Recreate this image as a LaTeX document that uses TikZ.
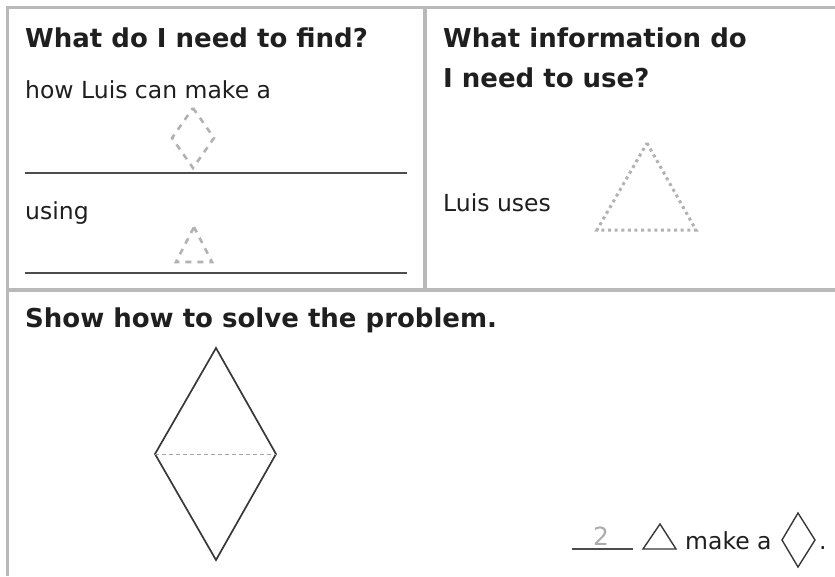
\documentclass[tikz,border=0pt]{standalone}
\usepackage{fontspec}
\setmainfont{DejaVu Sans}
\usetikzlibrary{positioning}

\tikzset{
  frame/.style={draw=gray!55, line width=3.5pt},
  rule/.style={draw=black!70, line width=1.8pt},
  hint/.style={draw=gray!60, line width=2.6pt, dash pattern=on 6pt off 6pt},
  dots/.style={draw=gray!60, line width=3pt, dash pattern=on 3pt off 3.6pt},
  solid shape/.style={draw=black!78, line width=1.7pt, line join=miter},
  head/.style={anchor=base west, inner sep=0pt, text=black!88,
    font=\fontsize{26}{30}\selectfont\bfseries},
  body/.style={anchor=base west, inner sep=0pt, text=black!88,
    font=\fontsize{23.5}{27}\selectfont}
}

\begin{document}
\begin{tikzpicture}[x=1pt, y=-1pt]
    \useasboundingbox (0,0) rectangle (835,576);
    % frame of the worksheet
    \draw[frame] (7.5,576) -- (7.5,7.5) -- (835,7.5);
    \draw[frame] (7.5,290) -- (835,290);
    \draw[frame] (425,7.5) -- (425,290);

    % first box
    \node[head] (find) at (25,47) {What do I need to find?};
    \node[body] (how) at (25,98) {how Luis can make a};
    \draw[hint] (193,108) -- (214,138) -- (193,168) -- (172,138) -- cycle;
    \draw[rule] (25,173) -- (407,173);
    \node[body] (using) at (25,219) {using};
    \draw[hint] (194,227) -- (212,262) -- (176,262) -- cycle;
    \draw[rule] (25,273) -- (407,273);

    % second box
    \node[head] (info) at (443,47) {What information do};
    \node[head] (use) at (443,87) {I need to use?};
    \node[body] (uses) at (443,211) {Luis uses};
    \draw[dots] (647,143) -- (696,230) -- (597,230) -- cycle;

    % third box
    \node[head] (show) at (25,327) {Show how to solve the problem.};
    \draw[solid shape] (216,348) -- (276,454) -- (216,560) -- (155,454) -- cycle;
    \draw[gray!70, line width=1pt, dash pattern=on 4pt off 3pt] (155,454) -- (276,454);

    % answer line
    \draw[rule, line width=1.3pt] (572,549) -- (633,549);
    \node[body, anchor=base, text=gray!65,
      font=\fontsize{25}{29}\selectfont] (two) at (601,545) {2};
    \draw[solid shape, line width=1.4pt] (643,549) -- (676,549) -- (660,524) -- cycle;
    \node[body] (make) at (685,549) {make a};
    \draw[solid shape, line width=1.4pt] (798,513) -- (815,540) -- (798,567) -- (782,540) -- cycle;
    \node[body] (stop) at (819,549) {.};
\end{tikzpicture}
\end{document}
